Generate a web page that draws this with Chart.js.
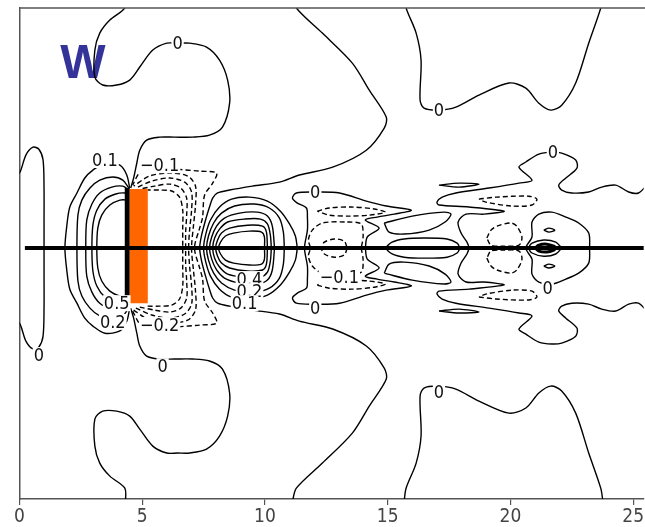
<!DOCTYPE html>
<html>
<head>
<meta charset="utf-8">
<script src="https://cdn.jsdelivr.net/npm/chart.js@4.4.1/dist/chart.umd.min.js"></script>
<style>
  html, body { margin: 0; padding: 0; background: #fff; }
</style>
</head>
<body>
<canvas id="chart" width="645" height="527"></canvas>
<script>
// axis
const xTicks = [0, 5, 10, 15, 20, 25];
const xRange = [0, 25.43];
const yRange = [-10.2, 9.76];

// contour lines, upper half (y >= 0) in axis units.
// "cross" lines start on the centre line and are closed through their mirror image.
const zeroLeft = [[1.0,0],[1.0,1.14],[1.0,2.36],[0.96,3.58],[0.79,4.02],[0.55,4.1],[0.26,3.78],[0.02,3.09],[-0.2,2.9]];
const zeroNearPlate = [[4.32,10.3],[4.29,9.76],[3.68,9.27],[3.27,8.74],[3.07,8.05],[3.07,6.95],[3.39,6.63],[3.96,6.63],[4.49,6.83],[4.90,7.36],[5.43,8.05],[6.0,8.33],[6.44,8.33],[6.93,8.33],[7.62,8.17],[8.15,7.64],[8.48,6.83],[8.56,5.89],[8.27,4.92],[7.74,4.59],[7.05,4.51],[6.32,4.51],[5.71,4.51],[5.18,4.39],[4.90,3.98],[4.78,3.46],[4.65,2.85],[4.53,2.44]];
const zeroWake = [[7.34,0],[7.42,0.53],[7.58,1.14],[7.74,1.67],[7.87,2.03],[8.07,2.24],[8.56,2.36],[9.49,2.52],[10.59,2.68],[11.40,2.97],[12.76,3.29],[14.13,3.98],[14.86,4.88],[14.94,5.33],[14.25,6.42],[13.56,7.52],[12.34,8.74],[11.28,9.76],[11.12,10.3]];
const zeroTopRight = [[15.67,10.3],[15.75,9.76],[16.16,8.74],[16.36,7.64],[16.32,6.02],[16.48,5.69],[17.09,5.61],[17.78,5.73],[18.72,6.22],[19.94,6.71],[20.63,6.5],[21.16,5.89],[21.65,5.61],[22.09,5.81],[22.66,6.71],[23.19,8.33],[23.68,9.76],[23.77,10.3]];
const zeroRight = [[18.31,0],[18.23,0.24],[17.99,0.61],[17.87,1.06],[18.19,1.38],[18.92,1.38],[19.74,1.50],[18.31,1.67],[17.09,1.75],[17.01,1.87],[17.22,2.07],[17.78,2.24],[19.13,2.44],[20.35,2.64],[20.88,2.76],[20.35,3.29],[20.63,3.50],[21.16,3.82],[21.69,3.90],[22.09,3.86],[22.66,3.58],[22.71,3.25],[22.26,2.85],[21.97,2.56],[22.09,2.36],[22.5,2.24],[23.19,2.28],[23.72,2.48],[24.29,2.56],[24.82,2.28],[25.22,2.24],[25.63,2.64]];
const zeroBand = [[11.61,0],[11.73,0.73],[11.73,1.26],[11.69,1.63],[11.32,1.83],[11.12,2.03],[11.28,2.24],[12.09,2.28],[13.04,2.24],[14.13,1.91],[14.94,1.71],[15.96,1.54],[15.27,1.38],[14.57,1.26],[14.09,1.14],[14.65,0.81],[14.17,0.45],[14.09,0]];
const zeroRing = [[20.63,0],[20.88,0.45],[20.88,1.06],[21.16,1.38],[21.69,1.46],[22.26,1.26],[22.78,1.02],[23.19,0.61],[23.23,0]];

const posUp1 = [[1.85,0],[1.93,0.93],[2.05,1.67],[2.34,2.24],[2.66,2.85],[2.99,3.17],[3.48,3.46],[4.09,3.37],[4.37,2.97],[4.49,2.44]];
const posUp2 = [[2.34,0],[2.38,1.34],[2.54,1.95],[2.87,2.44],[3.27,2.76],[3.80,2.89],[4.21,2.76],[4.45,2.44]];
const posUp3 = [[2.70,0],[2.74,1.14],[2.95,1.79],[3.27,2.24],[3.76,2.48],[4.21,2.52],[4.45,2.36]];
const posUp4 = [[2.95,0],[2.99,0.93],[3.15,1.54],[3.48,1.99],[3.92,2.20],[4.29,2.24],[4.45,2.15]];
const posUp5 = [[3.15,0],[3.19,0.81],[3.35,1.34],[3.68,1.75],[4.09,1.95],[4.37,1.95],[4.45,1.87]];

const negBack1 = [[7.13,0],[7.34,0.81],[7.46,1.26],[7.54,2.15],[7.87,2.64],[8.03,3.05],[7.34,3.13],[6.44,3.21],[5.71,3.37],[5.22,3.29],[4.90,3.09],[4.61,2.56]];
const negBack2 = [[7.01,0],[7.09,0.93],[7.17,1.75],[7.17,2.52],[6.85,2.93],[6.12,3.05],[5.30,2.93],[4.65,2.52]];
const negBack3 = [[6.89,0],[6.93,0.73],[7.01,1.54],[7.01,2.28],[6.73,2.68],[6.12,2.85],[5.39,2.72],[4.74,2.44]];
const negBack4 = [[6.77,0],[6.77,0.65],[6.81,1.34],[6.81,2.03],[6.57,2.44],[6.12,2.60],[5.51,2.52],[4.90,2.40]];
const negBack5 = [[6.65,0],[6.65,0.81],[6.65,1.54],[6.52,2.07],[6.20,2.32],[5.71,2.36],[5.22,2.36]];

const posWake1 = [[7.5,0],[7.58,0.53],[7.78,1.14],[8.15,1.67],[8.64,1.99],[9.37,2.07],[10.1,1.91],[10.63,1.50],[11.0,0.98],[11.24,0.49],[11.32,0]];
const posWake2 = [[7.62,0],[7.70,0.49],[7.91,1.02],[8.23,1.42],[8.76,1.71],[9.57,1.79],[10.18,1.63],[10.59,1.22],[10.75,0.65],[10.79,0]];
const posWake3 = [[7.74,0],[7.83,0.45],[8.03,0.89],[8.35,1.22],[8.96,1.42],[9.69,1.46],[10.1,1.30],[10.3,0.89],[10.39,0]];
const posWake4 = [[7.87,0],[7.95,0.41],[8.15,0.77],[8.48,1.06],[9.17,1.18],[9.82,1.18],[10.1,0.98],[10.22,0.53],[10.26,0]];
const posWake5 = [[7.99,0],[8.07,0.33],[8.23,0.61],[8.56,0.81],[9.29,0.93],[9.90,0.89],[10.06,0.65],[10.1,0]];
const posWake6 = [[8.11,0],[8.19,0.24],[8.39,0.49],[8.72,0.61],[9.37,0.69],[9.86,0.65],[9.98,0.45],[9.98,0]];

const negSmall = [[12.30,0],[12.42,0.24],[12.83,0.37],[13.23,0.28],[13.35,0]];
const negMid = [[11.85,0],[11.77,0.33],[11.93,0.73],[12.34,1.02],[13.32,1.06],[13.92,0.98],[14.0,0.49],[13.92,0]];
const negSliver = [[12.13,1.50],[12.62,1.63],[13.52,1.67],[14.45,1.59],[14.90,1.46],[14.25,1.34],[13.44,1.30],[12.62,1.34],[12.13,1.50]];
const negTear = [[18.72,1.99],[19.41,2.07],[20.75,2.11],[21.08,1.99],[20.88,1.75],[20.06,1.71],[19.0,1.87],[18.72,1.99]];
const negPocket = [[19.04,0.41],[19.21,0.73],[19.45,0.89],[20.02,1.02],[20.26,0.89],[20.47,0.45],[20.35,0.12],[19.74,0.08],[19.21,0.12],[19.04,0.41]];

const posBow = [[14.86,1.02],[16.0,1.30],[17.30,1.46],[17.58,1.38],[17.34,1.06],[16.69,0.73],[15.67,0.57],[15.06,0.65],[14.86,1.02]];
const posLens = [[14.94,0],[15.18,0.24],[15.67,0.37],[16.48,0.41],[17.42,0.37],[17.83,0.20],[17.95,0]];
const posThin = [[17.09,2.56],[17.91,2.64],[18.72,2.60],[17.91,2.48],[17.09,2.56]];
const posDot = [[21.36,0.73],[21.57,0.81],[21.81,0.73],[21.57,0.65],[21.36,0.73]];
const posCore1 = [[20.75,0],[20.88,0.20],[21.36,0.33],[21.85,0.24],[22.09,0]];
const posCore2 = [[21.04,0],[21.16,0.12],[21.48,0.16],[21.77,0.08],[21.85,0]];

// centre line, plate and its front face
const centreLine = [[0.22,0],[25.6,0]];
const plate = [[4.86,2.4],[4.86,-2.24]];
const plateFace = [[4.39,2.44],[4.39,-2.2]];

// contour labels: text, x, y
const labelText = ["0","0","0","0","0","0","0","0","0","0.1","\u22120.1","0.5","0.2","\u22120.2","0.4","0.2","0.1","\u22120.1"];
const labelX = [6.44,12.05,12.05,17.09,17.09,21.73,21.52,0.79,5.83,3.48,5.71,3.96,3.80,5.71,9.37,9.37,9.17,13.03];
const labelY = [8.33,2.28,-2.44,5.61,-5.85,3.90,-1.63,-4.35,-4.80,3.58,3.37,-2.24,-3.0,-3.13,-1.26,-1.75,-2.24,-1.18];

// [points, dashed, crosses centre line]
const lines = [
  [zeroLeft, false, true], [zeroNearPlate, false, false], [zeroWake, false, true],
  [zeroTopRight, false, false], [zeroRight, false, true], [zeroBand, false, true], [zeroRing, false, true],
  [posUp1, false, true], [posUp2, false, true], [posUp3, false, true], [posUp4, false, true], [posUp5, false, true],
  [negBack1, true, true], [negBack2, true, true], [negBack3, true, true], [negBack4, true, true], [negBack5, true, true],
  [posWake1, false, true], [posWake2, false, true], [posWake3, false, true], [posWake4, false, true], [posWake5, false, true], [posWake6, false, true],
  [negSmall, true, true], [negMid, true, true], [negSliver, true, false], [negTear, true, false], [negPocket, true, false],
  [posBow, false, false], [posLens, false, true], [posThin, false, false], [posDot, false, false],
  [posCore1, false, true], [posCore2, false, true]
];

const flip = pts => pts.map(([x, y]) => [x, -y]);
const toXY = pts => pts.map(([x, y]) => ({ x, y }));

const datasets = [];
function addLine(pts, dashed, width) {
  datasets.push({
    data: toXY(pts),
    showLine: true,
    pointRadius: 0,
    borderColor: "#000",
    borderWidth: width || 1.4,
    borderDash: dashed ? [5, 3] : [],
    tension: 0.3,
    fill: false,
    order: 1,
  });
}
lines.forEach(([pts, dashed, cross]) => {
  if (cross) {
    addLine(flip(pts).reverse().slice(0, -1).concat(pts), dashed, pts === posCore2 ? 3 : 0);
  } else {
    addLine(pts, dashed);
    addLine(flip(pts), dashed);
  }
});

datasets.push({ data: toXY(centreLine), showLine: true, pointRadius: 0, borderColor: "#000", borderWidth: 4, order: -2 });
datasets.push({ data: toXY(plate), showLine: true, pointRadius: 0, borderColor: "#ff6600", borderWidth: 18, borderCapStyle: "butt", order: -1 });
datasets.push({ data: toXY(plateFace), showLine: true, pointRadius: 0, borderColor: "#000", borderWidth: 5, borderCapStyle: "butt", order: -1 });

const narrow = "'Liberation Sans Narrow', 'DejaVu Sans Condensed', 'Liberation Sans', sans-serif";

const decorations = {
  id: "decorations",
  beforeDatasetsDraw(chart) {
    const { ctx, scales: { x, y } } = chart;
    ctx.save();
    ctx.fillStyle = "#333399";
    ctx.font = "bold 48px 'Liberation Sans', Arial, sans-serif";
    ctx.textAlign = "center";
    ctx.textBaseline = "middle";
    ctx.fillText("W", x.getPixelForValue(2.58), y.getPixelForValue(7.45));
    ctx.restore();
  },
  afterDraw(chart) {
    const { ctx, chartArea, scales: { x, y } } = chart;
    ctx.save();
    // top frame line
    ctx.strokeStyle = "#555";
    ctx.lineWidth = 1.5;
    ctx.beginPath();
    ctx.moveTo(chartArea.left, chartArea.top);
    ctx.lineTo(chart.width, chartArea.top);
    ctx.stroke();
    // contour labels
    ctx.font = "18px " + narrow;
    ctx.textAlign = "center";
    ctx.textBaseline = "middle";
    labelText.forEach((t, i) => {
      const px = x.getPixelForValue(labelX[i]);
      const py = y.getPixelForValue(labelY[i]);
      const w = ctx.measureText(t).width;
      ctx.fillStyle = "#fff";
      ctx.fillRect(px - w / 2 - 1, py - 8, w + 2, 16);
      ctx.fillStyle = "#111";
      ctx.fillText(t, px, py + 1);
    });
    ctx.restore();
  },
};

new Chart(document.getElementById("chart"), {
  type: "scatter",
  data: { datasets },
  options: {
    responsive: false,
    animation: false,
    layout: { padding: { left: 19.5, top: 8, right: 0, bottom: 0 } },
    plugins: { legend: { display: false }, tooltip: { enabled: false } },
    scales: {
      x: {
        type: "linear",
        min: xRange[0],
        max: xRange[1],
        afterBuildTicks: (s) => { s.ticks = xTicks.map((v) => ({ value: v })); },
        afterFit: (s) => { s.height = 28; },
        grid: { display: true, drawOnChartArea: false, drawTicks: true, tickLength: 6, color: "#555", lineWidth: 1.2 },
        border: { display: true, color: "#555", width: 1.5 },
        ticks: { color: "#444", padding: 1, maxRotation: 0, autoSkip: false, font: { family: narrow, size: 19 } },
      },
      y: {
        type: "linear",
        min: yRange[0],
        max: yRange[1],
        afterFit: (s) => { s.width = 0; },
        ticks: { display: false },
        grid: { display: false },
        border: { display: true, color: "#555", width: 1.5 },
      },
    },
  },
  plugins: [decorations],
});
</script>
</body>
</html>
